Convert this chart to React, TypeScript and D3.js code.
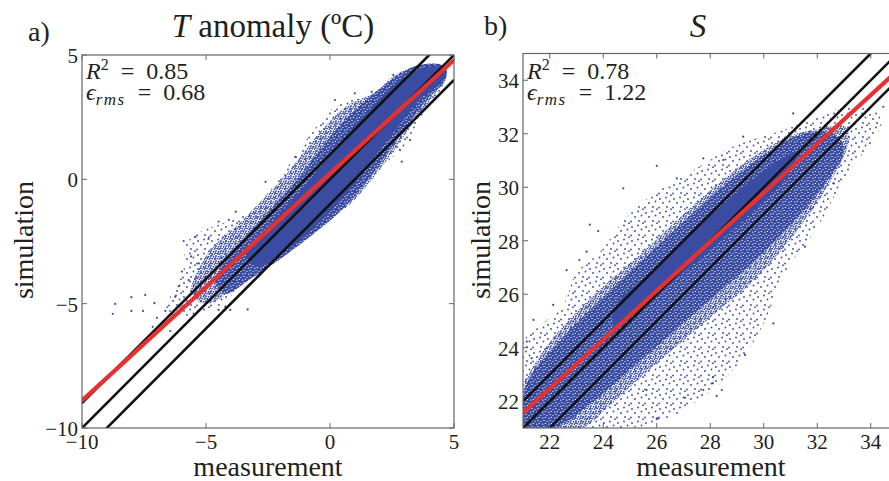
import React, { useEffect, useRef } from "react";
import * as d3 from "d3";

const width = 889;
const height = 481;
const dotBlue = "#3a4ca2";
const serif = "'Liberation Serif', 'Times New Roman', serif";

// reference lines y = x + offset, same in both panels
const lineOffsets = [-1, 0, 1];

// ---- panel a: T anomaly ----
const ticksA = [-10, -5, 0, 5];
const fitA = [[-10, -8.9], [5, 4.8]];
const coreA = [
  [-3.4, -3.0], [-2.4, -1.8], [-1.4, -0.7], [-0.4, 0.5], [0.6, 1.7], [1.6, 2.8],
  [2.6, 3.8], [3.4, 4.35], [4.1, 4.55], [4.7, 4.4], [4.5, 3.9], [3.7, 3.3],
  [2.8, 2.2], [1.8, 0.9], [0.9, -0.3], [0.0, -1.3], [-1.0, -2.3], [-2.0, -3.0], [-2.9, -3.5],
];
const denseA = [
  [-4.6, -4.2], [-4.2, -3.2], [-3.4, -2.3], [-2.4, -1.2], [-1.4, -0.1], [-0.4, 1.2],
  [0.6, 2.4], [1.6, 3.3], [2.6, 4.1], [3.6, 4.6], [4.6, 4.55], [4.65, 4.0], [3.9, 3.2],
  [3.0, 2.0], [2.2, 0.9], [1.4, -0.2], [0.4, -1.3], [-0.8, -2.3], [-2.0, -3.2],
  [-3.2, -4.0], [-4.2, -4.6],
];
const midA = [
  [-5.6, -4.6], [-5.2, -3.4], [-4.6, -2.6], [-3.8, -1.9], [-2.8, -0.9], [-1.6, 0.4],
  [-0.4, 1.9], [0.6, 2.9], [1.8, 3.5], [2.8, 4.3], [4.0, 4.6], [4.7, 4.2], [4.2, 3.4],
  [3.3, 2.2], [2.6, 1.2], [1.7, 0.0], [0.8, -1.0], [-0.3, -1.7], [-1.5, -2.5],
  [-2.8, -3.5], [-4.0, -4.5], [-5.0, -5.0],
];
const sparseA = [
  [-6.6, -5.4], [-6.3, -4.4], [-5.9, -3.6], [-5.8, -2.6], [-5.2, -2.1], [-4.4, -1.8],
  [-3.4, -1.4], [-2.3, -0.3], [-0.8, 1.8], [0.3, 3.0], [1.7, 3.4], [2.6, 4.2],
  [3.4, 4.5], [4.5, 4.6], [4.7, 4.1], [3.6, 2.4], [2.9, 1.2], [2.3, 0.7], [1.5, -0.1],
  [0.7, -1.1], [-0.4, -1.6], [-1.2, -2.1], [-2.2, -2.8], [-3.3, -3.8], [-4.2, -4.9],
  [-5.2, -5.4],
];
const outliersA = [
  [-8.76, -5.41], [-8.66, -5.01], [-8.01, -4.74], [-8.01, -5.29], [-7.54, -5.29],
  [-7.45, -4.65], [-7.08, -4.98], [-6.64, -5.29], [-6.44, -6.1], [-6.24, -4.72],
  [-5.9, -2.48], [-5.43, -2.31], [-4.49, -5.25], [-4.22, -5.12], [-4.02, -5.25],
  [-3.32, -5.23], [-7.15, -5.93], [-6.98, -5.57], [-4.49, -1.7], [-4.08, -1.63],
  [-5.97, -3.71], [-5.7, -4.05], [-5.29, -3.38], [0.2, 3.19], [1.68, 3.52],
  [2.55, 4.2], [1.0, 3.46], [2.82, 1.18], [2.55, 1.38], [2.89, 0.71], [3.23, 1.58],
  [-6.1, -4.3], [-5.6, -3.1], [-4.9, -2.4], [-3.8, -1.3], [-2.6, -0.1], [-1.4, 0.9],
];

// ---- panel b: S ----
const ticksB = [22, 24, 26, 28, 30, 32, 34];
const fitB = [[21, 21.56], [35, 34.36]];
const coreB = [
  [24.5, 25.6], [26.0, 27.0], [27.5, 28.5], [29.0, 29.8], [30.4, 30.9], [31.2, 31.3],
  [31.0, 30.6], [29.8, 29.3], [28.4, 28.0], [27.0, 26.8], [25.5, 25.5], [24.4, 24.8],
];
const denseB = [
  [21.2, 22.8], [22.5, 24.4], [24.0, 25.9], [25.6, 27.4], [27.2, 28.9], [28.8, 30.3],
  [30.3, 31.4], [31.5, 32.0], [32.6, 32.0], [33.0, 31.4], [32.2, 30.0], [31.0, 28.6],
  [29.6, 27.2], [28.0, 25.8], [26.4, 24.4], [24.8, 23.0], [23.4, 21.8], [22.2, 21.0],
  [21.0, 21.0], [21.0, 22.0],
];
const midB = [
  [21.0, 22.4], [21.5, 23.5], [22.5, 24.8], [24.0, 26.3], [25.5, 27.6], [27.0, 29.0],
  [28.5, 30.3], [30.0, 31.4], [31.2, 32.0], [32.2, 32.2], [33.0, 32.3], [33.2, 31.8],
  [32.6, 30.4], [31.7, 29.0], [30.7, 27.7], [29.5, 26.4], [28.2, 25.3], [26.8, 24.1],
  [25.4, 22.9], [24.2, 21.8], [23.2, 21.0], [21.8, 21.0], [21.0, 21.0],
];
const sparseB = [
  [21.0, 24.2], [21.6, 24.8], [22.5, 25.6], [23.0, 26.8], [23.9, 27.6], [24.8, 28.8],
  [25.8, 29.7], [26.8, 30.3], [27.8, 30.9], [28.8, 31.5], [30.6, 32.1], [32.0, 32.6],
  [33.0, 33.0], [34.0, 33.0], [34.4, 32.4], [33.0, 30.3], [32.0, 28.5], [30.8, 26.8],
  [30.0, 24.9], [29.2, 23.6], [28.5, 22.8], [27.5, 22.0], [26.3, 21.3], [25.0, 21.0],
  [21.0, 21.0],
];
const outliersB = [
  [26.0, 30.8], [23.38, 27.59], [23.81, 28.36], [21.14, 24.23], [21.32, 23.61],
  [21.1, 22.73], [30.71, 27.78], [31.54, 27.78], [30.36, 24.91], [29.3, 23.73],
  [28.1, 22.67], [27.74, 22.42], [26.0, 21.36], [32.6, 30.15], [32.35, 32.26],
  [31.1, 32.76], [34.47, 33.01], [25.62, 22.42], [21.39, 25.04], [22.13, 25.6],
  [22.63, 26.9], [23.11, 27.28], [23.5, 28.6], [24.75, 29.96], [26.75, 30.33],
  [27.74, 31.08], [28.49, 31.02], [29.23, 31.89], [31.35, 31.39], [33.35, 33.33],
  [27.06, 22.13], [28.24, 22.2], [28.43, 22.42], [28.1, 22.9], [26.06, 21.36],
];

const panels = [
  {
    id: "a", letter: "a)", title: "anomaly (ºC)", italicTitle: "T", domain: [-10, 5],
    left: 82, right: 454, top: 55, bottom: 428, ticks: ticksA, fit: fitA,
    core: coreA, dense: denseA, mid: midA, sparse: sparseA, outliers: outliersA,
    r2: "0.85", rms: "0.68", letterX: 28, letterY: 41, titleX: 273,
    xLabelX: 268, yLabelX: 33,
  },
  {
    id: "b", letter: "b)", title: "", italicTitle: "S", domain: [21, 35],
    left: 523, right: 897.5, top: 53.5, bottom: 428, ticks: ticksB, fit: fitB,
    core: coreB, dense: denseB, mid: midB, sparse: sparseB, outliers: outliersB,
    r2: "0.78", rms: "1.22", letterX: 484, letterY: 35, titleX: 698,
    xLabelX: 711, yLabelX: 490,
  },
];

function drawPanel(svg, p) {
  const x = d3.scaleLinear().domain(p.domain).range([p.left, p.right]);
  const y = d3.scaleLinear().domain(p.domain).range([p.bottom, p.top]);
  const g = svg.append("g");

  g.append("clipPath")
    .attr("id", `clip-${p.id}`)
    .append("rect")
    .attr("x", p.left)
    .attr("y", p.top)
    .attr("width", p.right - p.left)
    .attr("height", p.bottom - p.top);

  const plot = g.append("g").attr("clip-path", `url(#clip-${p.id})`);

  const zone = d3
    .line()
    .x((d) => x(d[0]))
    .y((d) => y(d[1]))
    .curve(d3.curveCatmullRomClosed.alpha(0.5));

  // density zones of the scatter, from sparse to solid
  plot.append("path").datum(p.sparse).attr("d", zone).attr("fill", "url(#sparseDots)");
  plot.append("path").datum(p.mid).attr("d", zone).attr("fill", "url(#midDots)");
  plot.append("path").datum(p.dense).attr("d", zone).attr("fill", "url(#denseDots)");
  plot.append("path").datum(p.core).attr("d", zone).attr("fill", dotBlue);

  plot
    .selectAll("circle.out")
    .data(p.outliers)
    .join("circle")
    .attr("class", "out")
    .attr("cx", (d) => x(d[0]))
    .attr("cy", (d) => y(d[1]))
    .attr("r", 1.1)
    .attr("fill", dotBlue);

  const [d0, d1] = p.domain;
  plot
    .selectAll("line.ref")
    .data(lineOffsets)
    .join("line")
    .attr("class", "ref")
    .attr("x1", x(d0))
    .attr("y1", (o) => y(d0 + o))
    .attr("x2", x(d1))
    .attr("y2", (o) => y(d1 + o))
    .attr("stroke", "#111")
    .attr("stroke-width", 2.6);

  plot
    .append("path")
    .datum(p.fit)
    .attr("d", d3.line().x((d) => x(d[0])).y((d) => y(d[1])))
    .attr("stroke", "#e8312f")
    .attr("stroke-width", 4.2)
    .attr("fill", "none");

  // box
  g.append("rect")
    .attr("x", p.left)
    .attr("y", p.top)
    .attr("width", p.right - p.left)
    .attr("height", p.bottom - p.top)
    .attr("fill", "none")
    .attr("stroke", "#666")
    .attr("stroke-width", 1.2);

  // inward ticks on all sides
  const tk = 5;
  p.ticks.forEach((t) => {
    g.append("line").attr("x1", x(t)).attr("x2", x(t)).attr("y1", p.bottom).attr("y2", p.bottom - tk).attr("stroke", "#666");
    g.append("line").attr("x1", x(t)).attr("x2", x(t)).attr("y1", p.top).attr("y2", p.top + tk).attr("stroke", "#666");
    g.append("line").attr("y1", y(t)).attr("y2", y(t)).attr("x1", p.left).attr("x2", p.left + tk).attr("stroke", "#666");
    g.append("line").attr("y1", y(t)).attr("y2", y(t)).attr("x1", p.right).attr("x2", p.right - tk).attr("stroke", "#666");
  });

  const fmt = (t) => (t < 0 ? `\u2212${Math.abs(t)}` : `${t}`);

  g.selectAll("text.xt")
    .data(p.ticks)
    .join("text")
    .attr("class", "xt")
    .attr("x", (t) => x(t))
    .attr("y", 449)
    .attr("text-anchor", "middle")
    .attr("font-family", serif)
    .attr("font-size", 21)
    .attr("fill", "#231f20")
    .text(fmt);

  g.selectAll("text.yt")
    .data(p.ticks)
    .join("text")
    .attr("class", "yt")
    .attr("x", p.left - 4)
    .attr("y", (t) => y(t))
    .attr("dy", "0.38em")
    .attr("text-anchor", "end")
    .attr("font-family", serif)
    .attr("font-size", 21)
    .attr("fill", "#231f20")
    .text(fmt);

  g.append("text")
    .attr("x", p.xLabelX)
    .attr("y", 476)
    .attr("text-anchor", "middle")
    .attr("font-family", serif)
    .attr("font-size", 28)
    .attr("fill", "#231f20")
    .text("measurement");

  g.append("text")
    .attr("transform", `translate(${p.yLabelX},240) rotate(-90)`)
    .attr("text-anchor", "middle")
    .attr("font-family", serif)
    .attr("font-size", 28)
    .attr("fill", "#231f20")
    .text("simulation");

  // panel letter and title
  g.append("text")
    .attr("x", p.letterX)
    .attr("y", p.letterY)
    .attr("font-family", serif)
    .attr("font-size", 28)
    .attr("fill", "#231f20")
    .text(p.letter);

  const title = g
    .append("text")
    .attr("x", p.titleX)
    .attr("y", 37)
    .attr("text-anchor", "middle")
    .attr("font-family", serif)
    .attr("font-size", 33)
    .attr("fill", "#231f20");
  title.append("tspan").attr("font-style", "italic").text(p.italicTitle);
  if (p.title) title.append("tspan").text(" " + p.title);

  // stats, one text element holding both lines
  const stats = g
    .append("text")
    .attr("font-family", serif)
    .attr("font-size", 24)
    .attr("fill", "#231f20");
  stats.append("tspan").attr("x", p.left + 4).attr("y", 79).attr("font-style", "italic").text("R");
  stats.append("tspan").attr("font-size", 16).attr("dy", -9).text("2");
  stats.append("tspan").attr("dy", 9).text(`\u2002=\u2002${p.r2}`);
  stats.append("tspan").attr("x", p.left + 4).attr("y", 100).attr("font-style", "italic").text("\u03f5");
  stats
    .append("tspan")
    .attr("font-style", "italic")
    .attr("font-size", 17)
    .attr("letter-spacing", 1.5)
    .attr("dy", 5)
    .text("rms");
  stats.append("tspan").attr("dy", -5).text(`\u2002=\u2002${p.rms}`);
}

const App = () => {
  const svgRef = useRef(null);

  useEffect(() => {
    if (!svgRef.current) return;
    const svg = d3.select(svgRef.current);
    svg.selectAll("*").remove();

    const defs = svg.append("defs");

    // blue with white speckles
    const dense = defs
      .append("pattern")
      .attr("id", "denseDots")
      .attr("patternUnits", "userSpaceOnUse")
      .attr("width", 6)
      .attr("height", 6);
    dense.append("rect").attr("width", 6).attr("height", 6).attr("fill", dotBlue);
    [[1, 1.5], [4, 0.5], [2.8, 4.2], [5.3, 3.4]].forEach(([a, b]) =>
      dense.append("circle").attr("cx", a).attr("cy", b).attr("r", 0.6).attr("fill", "#fff"),
    );

    const mid = defs
      .append("pattern")
      .attr("id", "midDots")
      .attr("patternUnits", "userSpaceOnUse")
      .attr("width", 5)
      .attr("height", 5);
    [[1, 1], [3.6, 1.7], [2.1, 3.6], [4.5, 4.3], [0.2, 3.0]].forEach(([a, b]) =>
      mid.append("circle").attr("cx", a).attr("cy", b).attr("r", 0.95).attr("fill", dotBlue),
    );

    const sparse = defs
      .append("pattern")
      .attr("id", "sparseDots")
      .attr("patternUnits", "userSpaceOnUse")
      .attr("width", 14)
      .attr("height", 14);
    [[2, 3], [8, 1.5], [5, 7], [11.5, 5.5], [1, 11.5], [9, 11], [13, 13.2]].forEach(([a, b]) =>
      sparse.append("circle").attr("cx", a).attr("cy", b).attr("r", 0.9).attr("fill", dotBlue),
    );

    panels.forEach((p) => drawPanel(svg, p));
  }, []);

  return (
    <svg
      ref={svgRef}
      width={width}
      height={height}
      style={{ position: "absolute", left: 0, top: 0, background: "#fff" }}
    ></svg>
  );
};

export default App;
